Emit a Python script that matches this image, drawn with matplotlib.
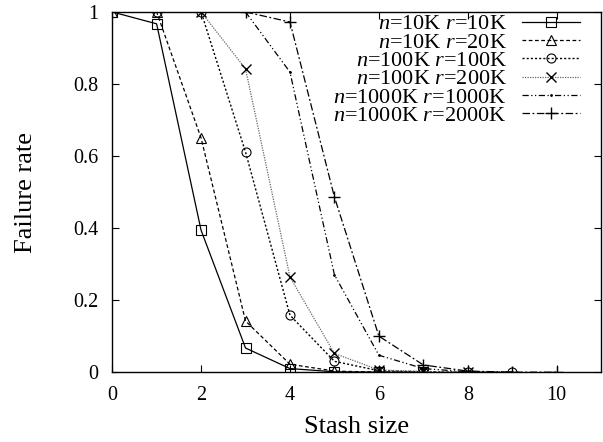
import matplotlib
matplotlib.use("Agg")
import matplotlib.pyplot as plt
from matplotlib.ticker import FuncFormatter

plt.rcParams['font.family'] = ['Liberation Serif', 'DejaVu Serif']
plt.rcParams['mathtext.fontset'] = 'custom'
plt.rcParams['mathtext.rm'] = 'Liberation Serif'
plt.rcParams['mathtext.it'] = 'Liberation Serif:italic'

# stash size vs failure rate
x1 = [0, 1, 2, 3, 4, 5, 6, 7]
y1 = [1, 0.967, 0.394, 0.067, 0.01, 0.001, 0, 0]
x2 = [0, 1, 2, 3, 4, 5, 6, 7]
y2 = [1, 1, 0.65, 0.142, 0.022, 0.003, 0, 0]
x3 = [1, 2, 3, 4, 5, 6, 7, 8, 9]
y3 = [1, 1, 0.611, 0.158, 0.03, 0.004, 0.001, 0, 0]
x4 = [2, 3, 4, 5, 6, 7, 8]
y4 = [1, 0.842, 0.264, 0.052, 0.006, 0.002, 0]
x5 = [3, 4, 5, 6, 7, 8, 9]
y5 = [1, 0.833, 0.27, 0.047, 0.01, 0.001, 0]
x6 = [3, 4, 5, 6, 7, 8, 9, 10]
y6 = [1, 0.972, 0.486, 0.1, 0.02, 0.003, 0, 0]

labels = [r'$n$=10K $r$=10K', r'$n$=10K $r$=20K', r'$n$=100K $r$=100K',
          r'$n$=100K $r$=200K', r'$n$=1000K $r$=1000K', r'$n$=1000K $r$=2000K']

fig = plt.figure(figsize=(6.03, 4.42), dpi=100)
ax = fig.add_axes([0.186, 0.158, 0.811, 0.815])

ax.plot(x1, y1, color='black', lw=0.9, ls='-', marker='s', mfc='none', ms=6.5, mew=0.8, label=labels[0])
ax.plot(x2, y2, color='black', lw=0.9, ls=(0, (3, 2)), marker='^', mfc='none', ms=6.5, mew=0.8, label=labels[1])
ax.plot(x3, y3, color='black', lw=1.0, ls=(0, (1.5, 1.5)), marker='o', mfc='none', ms=6.5, mew=0.8, label=labels[2])
ax.plot(x4, y4, color='#666666', lw=0.9, ls=(0, (1, 1)), marker='x', mec='black', ms=7, mew=1.0, label=labels[3])
ax.plot(x5, y5, color='black', lw=0.9, ls=(0, (5, 2, 1, 2, 1, 2)), marker='.', ms=2, label=labels[4])
ax.plot(x6, y6, color='black', lw=0.9, ls=(0, (6, 2, 1.5, 2)), marker='+', ms=8, mew=1.0, label=labels[5])

ax.set_xlim(0, 11)
ax.set_ylim(0, 1)
ax.set_xticks([0, 2, 4, 6, 8, 10])
ax.set_yticks([0, 0.2, 0.4, 0.6, 0.8, 1])
ax.yaxis.set_major_formatter(FuncFormatter(lambda v, p: '%g' % v))
ax.tick_params(direction='in', top=True, right=True, labelsize=14.5, length=5, pad=10)
for s in ax.spines.values():
    s.set_linewidth(1.0)

ax.set_xlabel('Stash size', fontsize=19, labelpad=8)
ax.set_ylabel('Failure rate', fontsize=19, labelpad=26)

ax.legend(loc='upper right', bbox_to_anchor=(0.957, 0.995), frameon=False, markerfirst=False,
          fontsize=16, handlelength=2.6, labelspacing=-0.1, borderaxespad=0, borderpad=0,
          handletextpad=0.7)

fig.savefig('out.png', dpi=100)
